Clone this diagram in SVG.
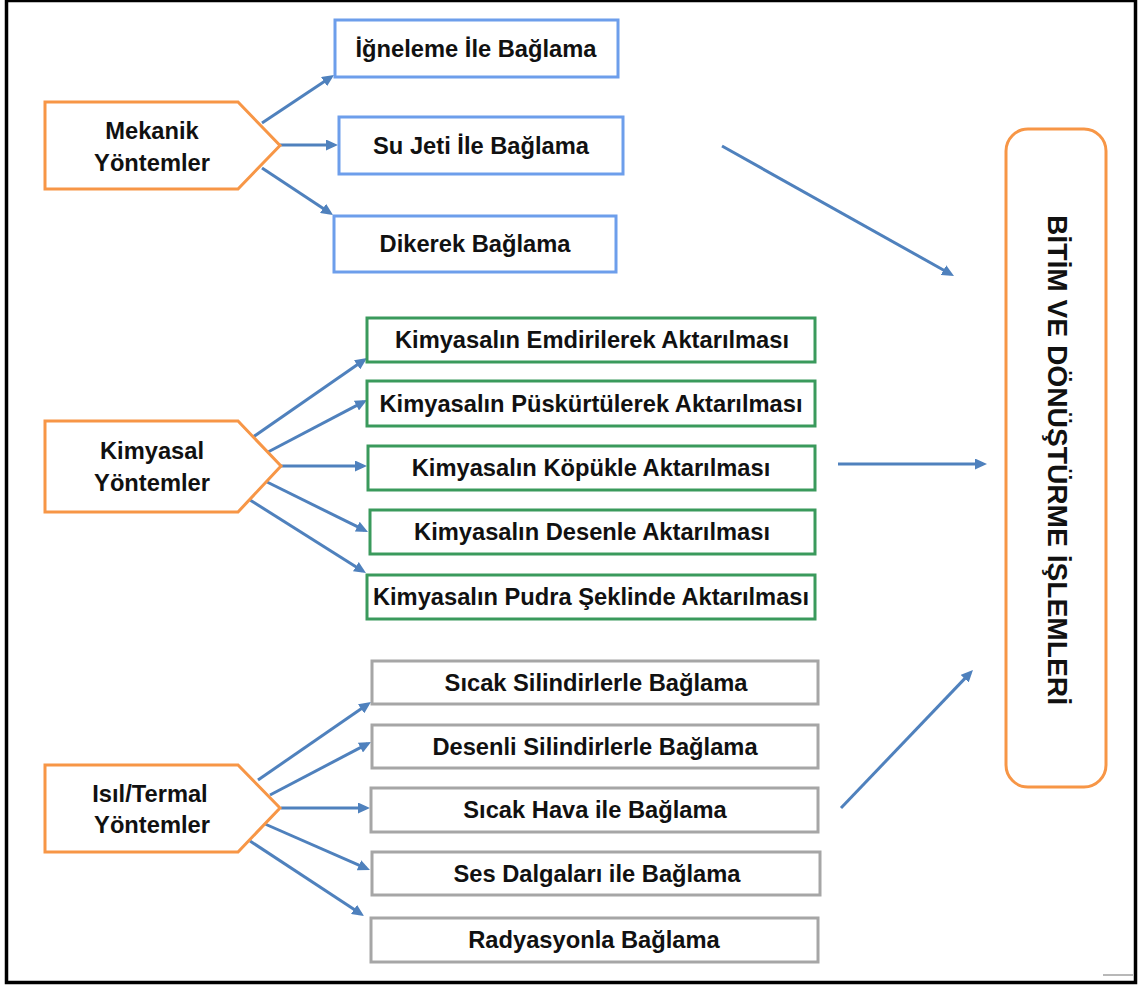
<svg xmlns="http://www.w3.org/2000/svg" width="1138" height="987" viewBox="0 0 1138 987">
  <style>
    .lbl { font-family: "Liberation Sans", Arial, sans-serif; font-weight: bold; font-size: 23.7px; fill: #111; text-anchor: middle; }
    .grp { fill: #fff; stroke: #F79646; stroke-width: 3; stroke-linejoin: miter; }
    .blue { fill: #fff; stroke: #6D9EEB; stroke-width: 3; }
    .green { fill: #fff; stroke: #3A9A5C; stroke-width: 3; }
    .gray { fill: #fff; stroke: #A6A6A6; stroke-width: 3; }
    .arr { stroke: #4F81BD; stroke-width: 3; fill: none; marker-end: url(#head); }
    .big { font-family: "Liberation Sans", Arial, sans-serif; font-weight: bold; font-size: 28px; fill: #111; text-anchor: middle; }
  </style>
  <defs>
    <marker id="head" markerUnits="userSpaceOnUse" markerWidth="12" markerHeight="11" refX="8" refY="5.5" orient="auto">
      <path d="M0,0 L12,5.5 L0,11 z" fill="#4F81BD"/>
    </marker>
  </defs>

  <rect x="0" y="0" width="1138" height="987" fill="#fff"/>
  <!-- outer frame -->
  <rect x="6.5" y="0.5" width="1129" height="982" fill="none" stroke="#000" stroke-width="3.5"/>
  <line x1="1103" y1="975" x2="1133" y2="975" stroke="#A0A0A0" stroke-width="1.5"/>

  <!-- connectors -->
  <g id="connectors">
    <line class="arr" x1="262" y1="123" x2="330.7" y2="77.2"/>
    <line class="arr" x1="280" y1="145" x2="334" y2="145"/>
    <line class="arr" x1="262" y1="168" x2="329.7" y2="212.8"/>

    <line class="arr" x1="253" y1="437" x2="363.7" y2="360.3"/>
    <line class="arr" x1="268" y1="452" x2="363.5" y2="401.9"/>
    <line class="arr" x1="281" y1="466" x2="363" y2="466"/>
    <line class="arr" x1="265" y1="481" x2="364.4" y2="530.2"/>
    <line class="arr" x1="250" y1="500" x2="362.6" y2="570.9"/>

    <line class="arr" x1="258" y1="780" x2="367.7" y2="704.3"/>
    <line class="arr" x1="270" y1="795" x2="367.5" y2="743.9"/>
    <line class="arr" x1="281" y1="808" x2="366" y2="808"/>
    <line class="arr" x1="265" y1="824" x2="366.3" y2="868.4"/>
    <line class="arr" x1="250" y1="841" x2="360.7" y2="913.8"/>

    <line class="arr" x1="722" y1="146" x2="950.5" y2="274"/>
    <line class="arr" x1="838" y1="464" x2="983" y2="464"/>
    <line class="arr" x1="841" y1="808" x2="970.2" y2="672.9"/>
  </g>

  <!-- method groups -->
  <g id="mekanik">
    <polygon class="grp" points="45,102 238,102 280,145.5 238,189 45,189"/>
    <text class="lbl" x="152" y="139">Mekanik</text>
    <text class="lbl" x="152" y="171">Yöntemler</text>
  </g>
  <g id="kimyasal">
    <polygon class="grp" points="45,421 238,421 281,466 238,512 45,512"/>
    <text class="lbl" x="152" y="459">Kimyasal</text>
    <text class="lbl" x="152" y="491">Yöntemler</text>
  </g>
  <g id="isil">
    <polygon class="grp" points="45,765 238,765 280,808 238,852 45,852"/>
    <text class="lbl" x="150" y="802">Isıl/Termal</text>
    <text class="lbl" x="152" y="833">Yöntemler</text>
  </g>

  <!-- mechanical bonding -->
  <g id="igneleme">
    <rect class="blue" x="335" y="20" width="283" height="57"/>
    <text class="lbl" x="476" y="57">İğneleme İle Bağlama</text>
  </g>
  <g id="su-jeti">
    <rect class="blue" x="339" y="117" width="284" height="57"/>
    <text class="lbl" x="481" y="154">Su Jeti İle Bağlama</text>
  </g>
  <g id="dikerek">
    <rect class="blue" x="334" y="216" width="282" height="56"/>
    <text class="lbl" x="475" y="252">Dikerek Bağlama</text>
  </g>

  <!-- chemical bonding -->
  <g id="emdirilerek">
    <rect class="green" x="367" y="318" width="448" height="44"/>
    <text class="lbl" x="592" y="348">Kimyasalın Emdirilerek Aktarılması</text>
  </g>
  <g id="puskurtulerek">
    <rect class="green" x="367" y="381" width="448" height="45"/>
    <text class="lbl" x="591" y="412">Kimyasalın Püskürtülerek Aktarılması</text>
  </g>
  <g id="kopukle">
    <rect class="green" x="368" y="446" width="447" height="44"/>
    <text class="lbl" x="591" y="476">Kimyasalın Köpükle Aktarılması</text>
  </g>
  <g id="desenle">
    <rect class="green" x="370" y="510" width="445" height="44"/>
    <text class="lbl" x="592" y="540">Kimyasalın Desenle Aktarılması</text>
  </g>
  <g id="pudra">
    <rect class="green" x="367" y="575" width="448" height="44"/>
    <text class="lbl" x="591" y="605">Kimyasalın Pudra Şeklinde Aktarılması</text>
  </g>

  <!-- thermal bonding -->
  <g id="sicak-silindir">
    <rect class="gray" x="372" y="661" width="446" height="43"/>
    <text class="lbl" x="596" y="691">Sıcak Silindirlerle Bağlama</text>
  </g>
  <g id="desenli-silindir">
    <rect class="gray" x="372" y="725" width="446" height="43"/>
    <text class="lbl" x="595" y="755">Desenli Silindirlerle Bağlama</text>
  </g>
  <g id="sicak-hava">
    <rect class="gray" x="371" y="788" width="447" height="44"/>
    <text class="lbl" x="595" y="818">Sıcak Hava ile Bağlama</text>
  </g>
  <g id="ses-dalgalari">
    <rect class="gray" x="372" y="852" width="448" height="43"/>
    <text class="lbl" x="597" y="882">Ses Dalgaları ile Bağlama</text>
  </g>
  <g id="radyasyon">
    <rect class="gray" x="371" y="918" width="447" height="44"/>
    <text class="lbl" x="594" y="948">Radyasyonla Bağlama</text>
  </g>

  <!-- finishing box -->
  <g id="bitim">
    <rect x="1006" y="129" width="100" height="658" rx="22" ry="22" fill="#fff" stroke="#F79646" stroke-width="3"/>
    <text class="big" transform="translate(1048,460) rotate(90)" x="0" y="0" textLength="490" lengthAdjust="spacingAndGlyphs">BİTİM VE DÖNÜŞTÜRME İŞLEMLERİ</text>
  </g>
</svg>
